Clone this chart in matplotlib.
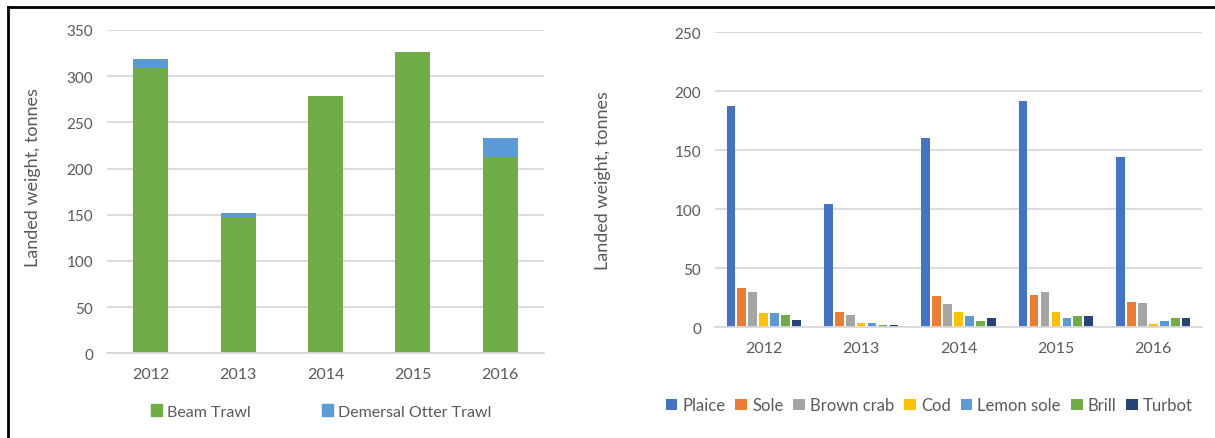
import numpy as np
import matplotlib.pyplot as plt
from matplotlib.lines import Line2D
from matplotlib.patches import Patch

plt.rcParams['font.family'] = ['Lato', 'DejaVu Sans']

years = ['2012', '2013', '2014', '2015', '2016']

# left panel: landings by gear (stacked)
beam_trawl = [309, 148, 279, 326, 213]
otter_trawl = [10, 4, 0, 0, 20]

# right panel: landings by species
species = ['Plaice', 'Sole', 'Brown crab', 'Cod', 'Lemon sole', 'Brill', 'Turbot']
plaice = [187, 104, 160.5, 191.5, 144]
sole = [33, 13, 26, 27.5, 21]
brown_crab = [30, 10, 19.5, 30, 20]
cod = [11.5, 3.5, 13, 13, 2.5]
lemon_sole = [11.5, 3, 9, 7.5, 5.5]
brill = [10, 1.5, 5.5, 9, 7.5]
turbot = [6, 2, 7.5, 9, 7.5]
species_vals = [plaice, sole, brown_crab, cod, lemon_sole, brill, turbot]
species_cols = ['#4472C4', '#ED7D31', '#A5A5A5', '#FFC000', '#5B9BD5', '#70AD47', '#264478']

txt = '#595959'
grid = '#d9d9d9'

fig = plt.figure(figsize=(12.15, 4.39), dpi=100)


def style(ax, ymax, step):
    ax.set_ylim(0, ymax)
    ax.set_yticks(np.arange(0, ymax + 1, step))
    ax.yaxis.grid(True, color=grid, linewidth=1.3)
    ax.set_axisbelow(True)
    for s in ['top', 'right', 'left']:
        ax.spines[s].set_visible(False)
    ax.spines['bottom'].set_color(grid)
    ax.spines['bottom'].set_linewidth(1.3)
    ax.tick_params(length=0, colors=txt, labelsize=11)
    ax.tick_params(axis='x', pad=10, labelsize=11.5)
    ax.tick_params(axis='y', pad=10)
    ax.set_ylabel('Landed weight, tonnes', color=txt, fontsize=13)


# left chart
ax1 = fig.add_axes([0.0881, 0.193, 0.3597, 0.7365])
x = np.arange(len(years))
ax1.bar(x, beam_trawl, width=0.4, color='#70AD47', label='Beam Trawl')
ax1.bar(x, otter_trawl, width=0.4, bottom=beam_trawl, color='#5B9BD5',
        label='Demersal Otter Trawl')
ax1.set_xlim(-0.5, 4.5)
ax1.set_xticks(x)
ax1.set_xticklabels(years)
style(ax1, 350, 50)
ax1.yaxis.set_label_coords(-0.151, 0.545)
ax1.legend(handles=[Patch(color='#70AD47', label='Beam Trawl'),
                    Patch(color='#5B9BD5', label='Demersal Otter Trawl')],
           loc='center', bbox_to_anchor=(0.49, -0.18), ncol=2, frameon=False,
           fontsize=11.5, labelcolor=txt, handlelength=0.7, handleheight=0.7,
           handletextpad=0.3, columnspacing=4.5)

# right chart
ax2 = fig.add_axes([0.5885, 0.2528, 0.4008, 0.672])
slot = 0.1124
for i, (name, vals, col) in enumerate(zip(species, species_vals, species_cols)):
    ax2.bar(x + (i - 3) * slot, vals, width=0.089, color=col, label=name)
ax2.set_xlim(-0.5, 4.5)
ax2.set_xticks(x)
ax2.set_xticklabels(years)
style(ax2, 250, 50)
ax2.yaxis.set_label_coords(-0.2135, 0.5)
ax2.legend(loc='center', bbox_to_anchor=(0.44, -0.265), ncol=7, frameon=False,
           fontsize=12, labelcolor=txt, handlelength=0.7, handleheight=0.7,
           handletextpad=0.3, columnspacing=0.6)

# frame around the figure
fig.add_artist(Line2D([0.0066, 1.0], [0.9818, 0.9818], color='black', linewidth=2))
fig.add_artist(Line2D([0.0066, 0.0066], [0.0, 0.9818], color='black', linewidth=2))

plt.savefig('out.png', dpi=100)
